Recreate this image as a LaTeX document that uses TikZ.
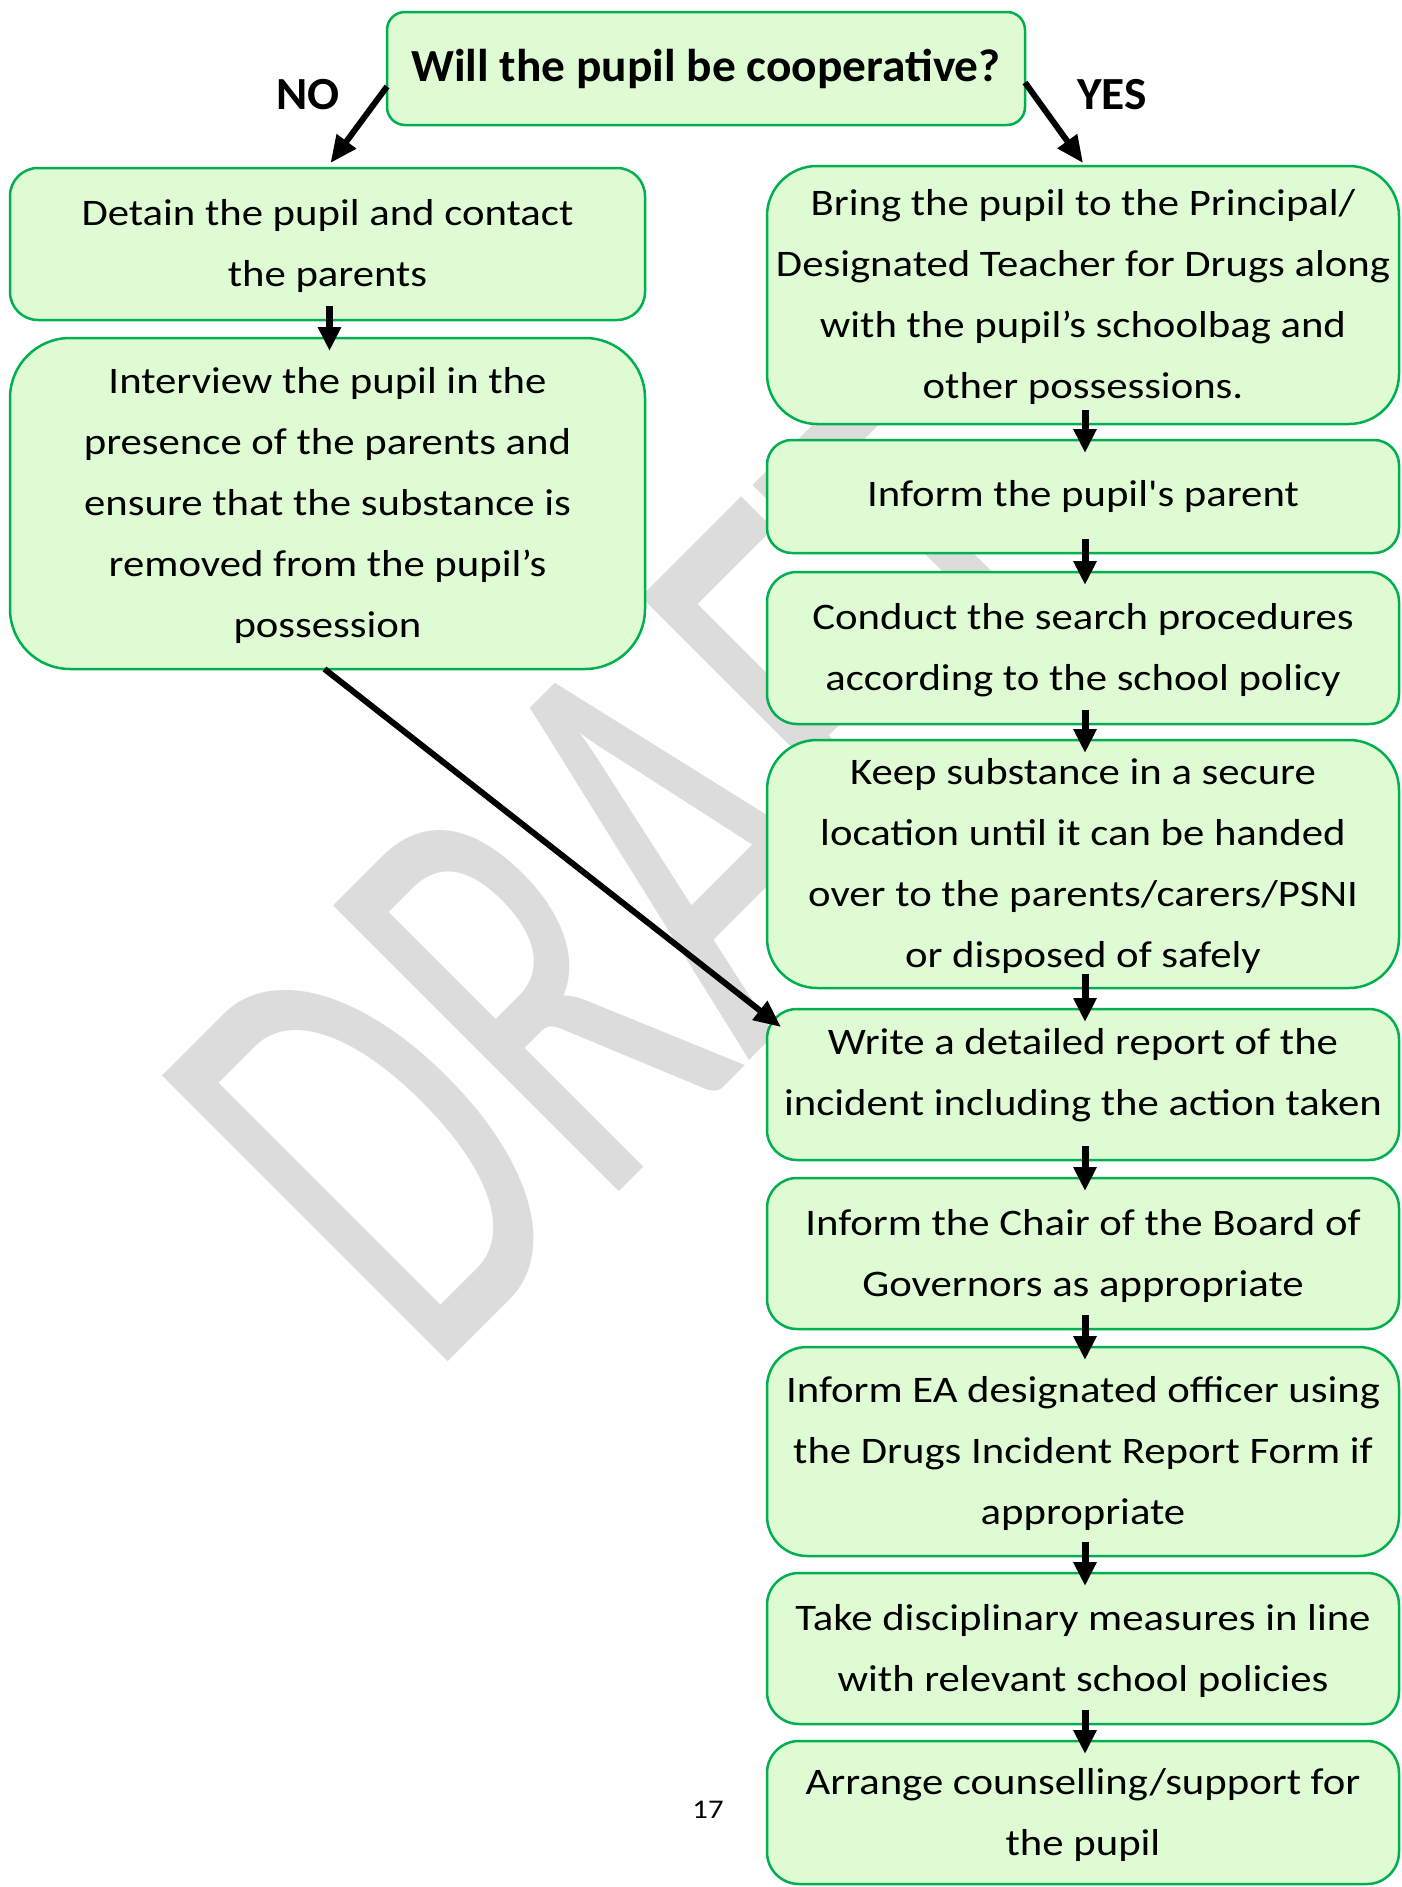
\documentclass[tikz,border=0pt]{standalone}
\usepackage{fontspec}
\usetikzlibrary{arrows.meta}
\newfontfamily\bodyfont{Carlito}[FakeStretch=1.14, Ligatures=TeXOff]
\newfontfamily\titlefont{Carlito}[FakeStretch=1.03]
\newfontfamily\wmfont{Carlito}
\definecolor{boxfill}{RGB}{223,251,212}
\definecolor{boxgreen}{RGB}{0,176,80}
\definecolor{wmgray}{RGB}{220,220,220}
\newcommand\tb[1]{\begin{tabular}{@{}c@{}}#1\end{tabular}}
\begin{document}
\begin{tikzpicture}[x=1pt,y=-1pt,
  box/.style={draw=boxgreen, fill=boxfill, line width=2.5pt, inner sep=0pt, outer sep=0pt,
    align=center, font=\bodyfont\fontsize{37.5}{61}\selectfont},
  rbox/.style={box, minimum width=632pt},
  lbox/.style={box, minimum width=635pt},
  varr/.style={line width=7pt, -{Triangle[width=22pt,length=24pt]}},
  darr/.style={line width=6pt, -{Triangle[width=23pt,length=27pt]}},
  lab/.style={font=\titlefont\bfseries\fontsize{46}{50}\selectfont, inner sep=0pt}]
\useasboundingbox (0,0) rectangle (1402,1887);
\fill[white] (0,0) rectangle (1402,1887);
% watermark
\node[anchor=base west, rotate=45, inner sep=0pt, text=wmgray,
  font=\wmfont\fontsize{630}{630}\selectfont] (wm) at (429,1381) {\scalebox{0.62}[1]{DRAFT}};
% boxes
\node[box, minimum width=638pt, minimum height=113pt, rounded corners=18pt,
  font=\titlefont\bfseries\fontsize{46}{50}\selectfont] (top) at (706,68.5) {Will the pupil be cooperative?};
\node[lbox, minimum height=152pt, rounded corners=28pt] (detain) at (327.5,244)
  {\tb{Detain the pupil and contact\\the parents}};
\node[lbox, minimum height=331pt, rounded corners=60pt] (interview) at (327.5,503.5)
  {\tb{Interview the pupil in the\\presence of the parents and\\ensure that the substance is\\removed from the pupil’s\\possession}};
\node[rbox, minimum height=258pt, rounded corners=50pt] (bring) at (1083,295)
  {\tb{Bring the pupil to the Principal/\\Designated Teacher for Drugs along\\with the pupil’s schoolbag and\\other possessions.}};
\node[rbox, minimum height=113pt, rounded corners=25pt] (parent) at (1083,496.5)
  {Inform the pupil's parent};
\node[rbox, minimum height=152pt, rounded corners=30pt] (conduct) at (1083,648)
  {\tb{Conduct the search procedures\\according to the school policy}};
\node[rbox, minimum height=248pt, rounded corners=50pt] (keep) at (1083,864)
  {\tb{Keep substance in a secure\\location until it can be handed\\over to the parents/carers/PSNI\\or disposed of safely}};
\node[rbox, minimum height=151pt, rounded corners=30pt] (write) at (1083,1084.5)
  {\raisebox{0pt}[\height][\dimexpr\depth+24pt\relax]{\tb{Write a detailed report of the\\incident including the action taken}}};
\node[rbox, minimum height=151pt, rounded corners=30pt] (chair) at (1083,1253.5)
  {\tb{Inform the Chair of the Board of\\Governors as appropriate}};
\node[rbox, minimum height=209pt, rounded corners=40pt] (ea) at (1083,1451.5)
  {\tb{Inform EA designated officer using\\the Drugs Incident Report Form if\\appropriate}};
\node[rbox, minimum height=151pt, rounded corners=32pt] (take) at (1083,1648.5)
  {\tb{Take disciplinary measures in line\\with relevant school policies}};
\node[rbox, minimum height=143pt, rounded corners=32pt] (arrange) at (1083,1812.5)
  {\tb{Arrange counselling/support for\\the pupil}};
% labels
\node[lab] (no) at (308,95) {NO};
\node[lab] (yes) at (1112,95) {YES};
\node[inner sep=0pt, font=\bodyfont\fontsize{27}{30}\selectfont] (page) at (708,1810) {17};
% arrows
\draw[darr] ([yshift=-18pt]top.west) -- ([xshift=3pt,yshift=5pt]detain.north);
\draw[darr] ([yshift=-14pt]top.east) -- ([yshift=3pt]bring.north);
\draw[darr] ([xshift=-3pt]interview.south) -- ([xshift=14pt,yshift=-18pt]write.north west);
\draw[varr] ([xshift=2pt,yshift=14pt]detain.south) -- ([xshift=2pt,yshift=-13pt]interview.north);
\foreach \a/\b in {bring/parent,parent/conduct,conduct/keep,keep/write,write/chair,chair/ea,ea/take,take/arrange}
  \draw[varr] ([xshift=2pt,yshift=14pt]\a.south) -- ([xshift=2pt,yshift=-13pt]\b.north);
\end{tikzpicture}
\end{document}
